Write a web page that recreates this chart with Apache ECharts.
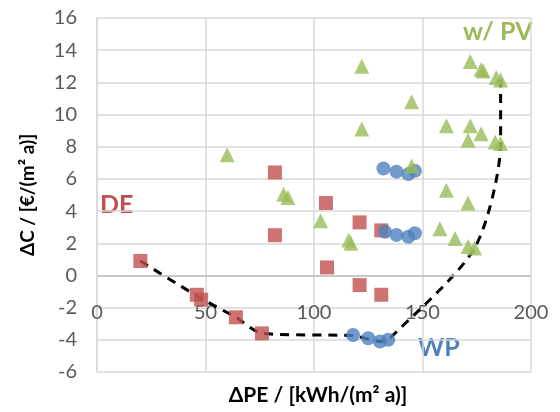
<!DOCTYPE html>
<html>
<head>
<meta charset="utf-8">
<script src="https://cdn.jsdelivr.net/npm/echarts@6/dist/echarts.min.js"></script>
<style>html,body{margin:0;padding:0;background:#fff}#c{width:560px;height:412px}</style>
</head>
<body>
<div id="c"></div>
<script>
// Data: [ΔPE, ΔC]
const dePoints = [[20,0.9],[46,-1.2],[48,-1.5],[64,-2.6],[76,-3.6],[82,6.4],[82,2.5],[105.5,4.5],[106,0.5],[121,3.3],[121,-0.6],[131,2.8],[131,-1.2]];
const wpPoints = [[132,6.65],[138,6.45],[143.5,6.3],[146.5,6.5],[132.7,2.72],[138,2.52],[143.5,2.41],[146.5,2.62],[118,-3.7],[125,-3.9],[130.4,-4.1],[134.2,-4.0]];
const pvPoints = [[60,7.5],[86,5.05],[88,4.85],[103,3.4],[116,2.2],[117,2.0],[122,13.0],[122,9.1],[145,6.8],[145,10.8],[161,9.3],[172,13.3],[177,12.8],[178,12.7],[184,12.3],[186,12.15],[172,9.3],[171,8.4],[177,8.8],[183.5,8.3],[186,8.2],[161,5.3],[171,4.5],[158,2.9],[165,2.3],[171,1.8],[174,1.7]];
const frontPoints = [[20,0.9],[47,-1.35],[64,-2.6],[76,-3.6],[118,-3.75],[130.4,-4.1],[134.2,-4.0],[174,1.7],[186,8.2],[186,12.2]];
const xTicks = {min:0, max:200, interval:50};
const yTicks = {min:-6, max:16, interval:2};

const RED='#C0504D', BLUE='#4F81BD', GREEN='#9BBB59';
const FONT='Lato';
const chart = echarts.init(document.getElementById('c'), null, {renderer:'canvas'});
chart.setOption({
  animation:false,
  grid:{left:97, right:29, top:18, bottom:40},
  xAxis:{type:'value', min:xTicks.min, max:xTicks.max, interval:xTicks.interval,
    axisLine:{show:false, onZero:false},
    axisTick:{show:false},
    axisLabel:{margin:-69, color:'#595959', fontSize:20, fontFamily:FONT, verticalAlign:'top'},
    splitLine:{show:true, lineStyle:{color:'#d9d9d9', width:1.5}}},
  yAxis:{type:'value', min:yTicks.min, max:yTicks.max, interval:yTicks.interval,
    axisLine:{show:true, lineStyle:{color:'#d9d9d9', width:1.5}},
    axisTick:{show:false},
    axisLabel:{margin:20, color:'#595959', fontSize:20, fontFamily:FONT},
    splitLine:{show:true, lineStyle:{color:'#d9d9d9', width:1.5}},
    name:'ΔC / [€/(m² a)]', nameLocation:'middle', nameRotate:90, nameGap:60,
    nameTextStyle:{color:'#000', fontSize:19, fontWeight:'bold', fontFamily:FONT}},
  graphic:[
    {type:'text', x:318, y:395, style:{text:'ΔPE / [kWh/(m² a)]', align:'center', verticalAlign:'middle', fill:'#000', font:'bold 21px '+FONT}},
    {type:'text', x:100, y:205, style:{text:'DE', verticalAlign:'middle', fill:RED, font:'bold 25px '+FONT}},
    {type:'text', x:463, y:32, style:{text:'w/ PV', verticalAlign:'middle', fill:GREEN, font:'bold 25px '+FONT}},
    {type:'text', x:418, y:348, style:{text:'WP', verticalAlign:'middle', fill:BLUE, font:'bold 25px '+FONT}}
  ],
  series:[
    {type:'line', data:frontPoints, symbol:'none', smooth:0.25, z:1,
      lineStyle:{color:'#000', width:3, type:[9,7]},
      markLine:{silent:true, symbol:'none', label:{show:false},
        lineStyle:{color:'#bfbfbf', width:1.5, type:'solid'}, data:[{yAxis:0}]}},
    {type:'scatter', data:dePoints, symbol:'rect', symbolSize:14, z:2, itemStyle:{color:RED}},
    {type:'scatter', data:wpPoints, symbol:'circle', symbolSize:14, z:3, itemStyle:{color:BLUE}},
    {type:'scatter', data:pvPoints, symbol:'triangle', symbolSize:15, z:4, itemStyle:{color:GREEN}}
  ]
});
</script>
</body>
</html>
